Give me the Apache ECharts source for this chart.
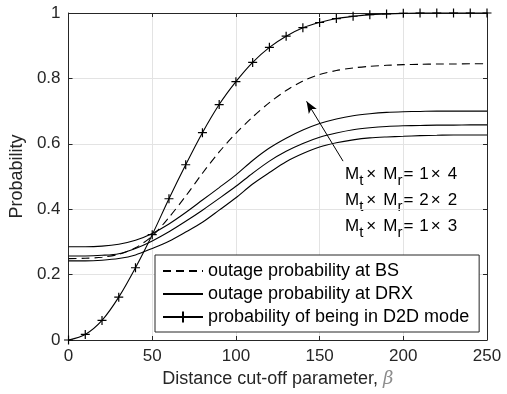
<!DOCTYPE html>
<html>
<head>
<meta charset="utf-8">
<script src="https://cdn.jsdelivr.net/npm/echarts@6/dist/echarts.min.js"></script>
<style>
html,body{margin:0;padding:0;background:#fff;}
#chart{width:507px;height:394px;}
</style>
</head>
<body>
<div id="chart"></div>
<script>
// ---- data ----
var beta = [0,10,20,30,40,50,60,70,80,90,100,110,120,130,140,150,160,170,180,190,200,210,220,230,240,250];
var outageBS = [0.249,0.250,0.253,0.262,0.282,0.318,0.375,0.440,0.510,0.575,0.632,0.682,0.726,0.763,0.792,0.812,0.824,0.832,0.837,0.840,0.842,0.843,0.844,0.844,0.845,0.845];
var drx1x4 = [0.285,0.285,0.287,0.293,0.305,0.326,0.355,0.390,0.428,0.466,0.505,0.549,0.587,0.617,0.642,0.662,0.676,0.686,0.692,0.696,0.698,0.699,0.700,0.700,0.700,0.700];
var drx2x2 = [0.257,0.257,0.259,0.264,0.280,0.303,0.331,0.363,0.397,0.433,0.470,0.510,0.547,0.577,0.601,0.620,0.633,0.643,0.649,0.653,0.655,0.656,0.657,0.657,0.658,0.658];
var drx1x3 = [0.242,0.242,0.244,0.249,0.260,0.280,0.302,0.330,0.360,0.397,0.435,0.477,0.512,0.545,0.570,0.590,0.603,0.612,0.618,0.621,0.623,0.625,0.626,0.627,0.627,0.627];
var d2d = [0,0.017,0.060,0.131,0.221,0.322,0.432,0.536,0.634,0.720,0.790,0.849,0.895,0.929,0.955,0.971,0.983,0.990,0.995,0.997,0.999,1,1,1,1,1];
var xTicks = [0,50,100,150,200,250];
var yTicks = [0,0.2,0.4,0.6,0.8,1];
var legendNames = ['outage probability at BS','outage probability at DRX','probability of being in D2D mode'];
var annotA = ['1','2','1'];
var annotB = ['4','2','3'];
var arrowFrom = [164, 0.547];
var arrowTo = [142.2, 0.73];

function pairs(ys){ return beta.map(function(b,i){ return [b, ys[i]]; }); }

var FONT = 'Liberation Sans, Arial, Helvetica, sans-serif';
var AX = '#262626';
var TXT = 18;
var chart = echarts.init(document.getElementById('chart'), null, {renderer:'canvas'});

function axisCommon(){
  return {
    axisLine:{show:true, onZero:false, lineStyle:{color:AX, width:1}},
    axisTick:{show:true, inside:true, length:4, lineStyle:{color:AX, width:1}}
  };
}
var xMain = Object.assign(axisCommon(), {
  type:'value', min:xTicks[0], max:xTicks[xTicks.length-1], interval:xTicks[1]-xTicks[0], position:'bottom',
  axisLabel:{color:AX, fontSize:17, fontFamily:FONT, margin:8},
  splitLine:{show:true, lineStyle:{color:'#e3e3e3', width:1}},
  name:'{n|Distance cut-off parameter, }{b|\u03b2}', nameLocation:'middle', nameGap:28,
  nameTextStyle:{rich:{n:{fontSize:TXT, fontFamily:FONT, color:AX}, b:{fontSize:TXT, fontFamily:'DejaVu Serif, serif', fontStyle:'italic', color:'#8c8c8c'}}}
});
var xTop = Object.assign(axisCommon(), {
  type:'value', min:xTicks[0], max:xTicks[xTicks.length-1], interval:xTicks[1]-xTicks[0], position:'top',
  axisLabel:{show:false}, splitLine:{show:false}
});
var yMain = Object.assign(axisCommon(), {
  type:'value', min:yTicks[0], max:yTicks[yTicks.length-1], interval:yTicks[1]-yTicks[0], position:'left',
  axisLabel:{color:AX, fontSize:17, fontFamily:FONT, margin:8},
  splitLine:{show:true, lineStyle:{color:'#e3e3e3', width:1}},
  name:'Probability', nameLocation:'middle', nameGap:30,
  nameTextStyle:{fontSize:TXT, fontFamily:FONT, color:AX}
});
var yRight = Object.assign(axisCommon(), {
  type:'value', min:yTicks[0], max:yTicks[yTicks.length-1], interval:yTicks[1]-yTicks[0], position:'right',
  axisLabel:{show:false}, splitLine:{show:false}
});

var solidStyle = {color:'#000', width:1.1, type:'solid'};
function solidSeries(name, ys){
  return {type:'line', name:name, data:pairs(ys), smooth:0.3, symbol:'none', lineStyle:solidStyle, itemStyle:{color:'#000'}, silent:true, z:3};
}

var plusPath = 'path://M5,0 L5,10 M0,5 L10,5';
var noSym = {color:'rgba(0,0,0,0)', borderColor:'rgba(0,0,0,0)', borderWidth:0, opacity:0};

var annotGraphics = annotA.map(function(a, i){
  var tops = [166, 192, 218];
  return {
    type:'text', left:345, top:tops[i], silent:true,
    style:{
      text:'{m|M}{s|t}{x|\u00d7}{m|M}{s|r}{q|=}{m|' + a + '}{x|\u00d7}{m|' + annotB[i] + '}',
      rich:{
        m:{fontSize:17, fontFamily:FONT, fill:'#000', lineHeight:28, verticalAlign:'middle'},
        x:{fontSize:17, fontFamily:FONT, fill:'#000', lineHeight:28, verticalAlign:'middle', padding:[0,7,0,2]},
        q:{fontSize:17, fontFamily:FONT, fill:'#000', lineHeight:28, verticalAlign:'middle', padding:[0,6,0,0]},
        s:{fontSize:15, fontFamily:FONT, fill:'#000', lineHeight:15, verticalAlign:'bottom', padding:[0,1,0,0]}
      }
    }
  };
});

chart.setOption({
  animation:false,
  backgroundColor:'#fff',
  grid:{left:65, right:20, top:13, bottom:54, containLabel:false},
  xAxis:[xMain, xTop],
  yAxis:[yMain, yRight],
  legend:{
    data:[
      {name:legendNames[0], itemStyle:noSym},
      {name:legendNames[1], itemStyle:noSym},
      {name:legendNames[2]}
    ],
    orient:'vertical', left:155, top:255,
    itemWidth:40, itemHeight:14, itemGap:5,
    padding:[7,10,6,7],
    backgroundColor:'#fff', borderColor:AX, borderWidth:1, borderRadius:0,
    textStyle:{fontSize:TXT, fontFamily:FONT, color:'#000'},
    selectedMode:false, z:10
  },
  graphic:annotGraphics,
  series:[
    {type:'line', name:legendNames[0], data:pairs(outageBS), smooth:0.3, symbol:'none',
      lineStyle:{color:'#000', width:1.1, type:[8,5]}, itemStyle:{color:'#000'}, silent:true, z:3},
    solidSeries(legendNames[1], drx1x4),
    solidSeries('drx 2x2', drx2x2),
    solidSeries('drx 1x3', drx1x3),
    {type:'line', name:legendNames[2], data:pairs(d2d), smooth:0.3, symbol:plusPath, symbolSize:9, showSymbol:true,
      clip:false,
      lineStyle:{color:'#000', width:1.1, type:'solid'}, itemStyle:{color:'#000', borderColor:'#000', borderWidth:1.2}, silent:true, z:4},
    {type:'line', name:'arrow', data:[], silent:true,
      markLine:{silent:true, symbol:['none','arrow'], symbolSize:[7,12], animation:false,
        label:{show:false}, lineStyle:{color:'#000', width:1, type:'solid'},
        data:[[{coord:arrowFrom}, {coord:arrowTo}]]}}
  ]
});
</script>
</body>
</html>
